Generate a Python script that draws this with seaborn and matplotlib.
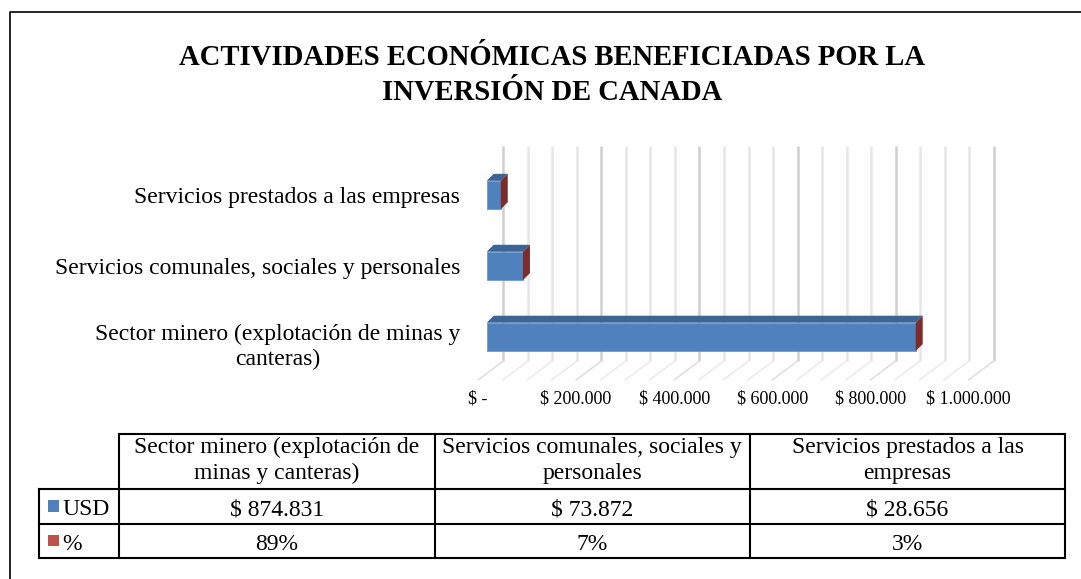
import numpy as np
import pandas as pd
import matplotlib
matplotlib.use('Agg')
import matplotlib.pyplot as plt
import seaborn as sns
from matplotlib.patches import Polygon, Rectangle
from matplotlib.transforms import Affine2D, blended_transform_factory

# datos
categorias = ['Sector minero (explotación de minas y canteras)',
              'Servicios comunales, sociales y personales',
              'Servicios prestados a las empresas']
usd = [874831, 73872, 28656]
pct = [89, 7, 3]
etiquetas_eje = ['Sector minero (explotación de minas y\ncanteras)',
                 'Servicios comunales, sociales y personales',
                 'Servicios prestados a las empresas']
encabezados = ['Sector minero (explotación de\nminas y canteras)',
               'Servicios comunales, sociales y\npersonales',
               'Servicios prestados a las\nempresas']
x_ticks = [0, 200000, 400000, 600000, 800000, 1000000]
x_tick_labels = ['$ -', '$ 200.000', '$ 400.000', '$ 600.000', '$ 800.000', '$ 1.000.000']
x_grid_step = 50000
series = ['USD', '%']
titulo = 'ACTIVIDADES ECONÓMICAS BENEFICIADAS POR LA\nINVERSIÓN DE CANADA'

AZUL = '#4F81BD'
AZUL_TOP = '#3C6595'
ROJO = '#C0504D'
ROJO_SIDE = '#7C2D2B'


def fmt_usd(v):
    return '$ ' + f'{v:,}'.replace(',', '.')


W, H = 1081, 579
sns.set_style('white')
plt.rcParams['font.family'] = ['Liberation Serif', 'DejaVu Serif']
plt.rcParams['text.color'] = 'black'
plt.rcParams['ytick.color'] = 'black'
plt.rcParams['ytick.labelcolor'] = 'black'

fig = plt.figure(figsize=(W / 100, H / 100), dpi=100)
pix = Affine2D().scale(1, -1).translate(0, H)  # image pixels (y from top) -> display


def box(l, t, r, b):
    return [l / W, 1 - b / H, (r - l) / W, (b - t) / H]


# overlay for frame + data table
ax_t = fig.add_axes([0, 0, 1, 1])
ax_t.set_xlim(0, W)
ax_t.set_ylim(H, 0)
ax_t.axis('off')
ax_t.plot([10, 10, W + 5], [H + 5, 12, 12], color='black', lw=1.2, clip_on=False)

# bar plane geometry (pixels)
X0, X1 = 486.7, 977.1          # value 0 and 1.000.000 on the bar front
Y_CAT0, Y_STEP = 195, 70.95    # centre of the top bar, distance between bars
AX_T, AX_B = 130, 400
BACK_DX, FRONT_DX = 16.6, -8.7
WALL_TOP, FLOOR_BACK, FLOOR_FRONT = 146, 361, 380
DEPTH = 7

ax = fig.add_axes(box(X0, AX_T, X1, AX_B))
ax.patch.set_alpha(0)

df = pd.DataFrame({'categoria': categorias, 'usd': usd, 'pct': pct})
orden = categorias[::-1]
sns.barplot(data=df, x='usd', y='categoria', order=orden, orient='h', color=AZUL,
            saturation=1, width=0.4, ax=ax, zorder=3, edgecolor='#6E9AD0', linewidth=0.6)

xscale = (X1 - X0) / x_ticks[-1]
tw = blended_transform_factory(ax.transData, pix)

# back wall + floor grid
major = x_ticks[1] - x_ticks[0]
for v in np.arange(0, x_ticks[-1] + 1, x_grid_step):
    c = '#CFCFCF' if v % major == 0 else '#E6E6E6'
    xb = v + BACK_DX / xscale
    ax.plot([xb, xb], [WALL_TOP, FLOOR_BACK], transform=tw, color=c, lw=1.8,
            clip_on=False, zorder=0, solid_capstyle='butt')
    ax.plot([xb, v + FRONT_DX / xscale], [FLOOR_BACK, FLOOR_FRONT], transform=tw,
            color='#DDDDDD' if v % major == 0 else '#EAEAEA', lw=1.1, clip_on=False, zorder=0)

for v, lab in zip(x_ticks, x_tick_labels):
    ax.text(v + FRONT_DX / xscale, 399, lab, transform=tw, ha='center', va='center',
            fontsize=13)

# 3d faces: top in dark blue, end cap belongs to the % series
bars = list(ax.patches)
ddx = DEPTH / xscale
ddy = DEPTH / Y_STEP
for p in bars:
    x0 = p.get_x()
    x1 = x0 + p.get_width()
    ytop = min(p.get_y(), p.get_y() + p.get_height())
    ybot = max(p.get_y(), p.get_y() + p.get_height())
    ax.add_patch(Polygon([(x0, ytop), (x1, ytop), (x1 + ddx, ytop - ddy), (x0 + ddx, ytop - ddy)],
                         closed=True, fc=AZUL_TOP, ec='none', zorder=3))
    ax.add_patch(Polygon([(x1, ytop), (x1, ybot), (x1 + ddx, ybot - ddy), (x1 + ddx, ytop - ddy)],
                         closed=True, fc=ROJO_SIDE, ec='none', zorder=3))

ax.set_xlim(0, x_ticks[-1])
ax.set_ylim((AX_B - Y_CAT0) / Y_STEP, (AX_T - Y_CAT0) / Y_STEP)
ax.set_yticks(range(len(orden)), labels=etiquetas_eje[::-1])
ax.tick_params(axis='y', length=0, pad=(X0 - 460) * 0.72, labelsize=17)
ax.tick_params(axis='x', bottom=False, labelbottom=False)
for lab in ax.get_yticklabels():
    lab.set_multialignment('center')
    if '\n' in lab.get_text():
        lab.set_transform(lab.get_transform() + Affine2D().translate(0, -6))
ax.set_xlabel('')
ax.set_ylabel('')
for s in ax.spines.values():
    s.set_visible(False)

# title
fig.text(552 / W, 1 - 75 / H, titulo, ha='center', va='center', fontsize=20.6,
         fontweight='bold', linespacing=1.4)

# data table
xs = [39, 119, 434.5, 750, 1065]
ys = [434, 489, 523.5, 558]
lk = dict(color='black', lw=1.5, solid_capstyle='projecting')
ax_t.plot([xs[1], xs[-1]], [ys[0], ys[0]], **lk)
for y in ys[1:]:
    ax_t.plot([xs[0], xs[-1]], [y, y], **lk)
ax_t.plot([xs[0], xs[0]], [ys[1], ys[3]], **lk)
for x in xs[1:]:
    ax_t.plot([x, x], [ys[0], ys[3]], **lk)

for i, enc in enumerate(encabezados):
    cx = (xs[i + 1] + xs[i + 2]) / 2
    ax_t.text(cx, (ys[0] + ys[1]) / 2 - 1, enc, ha='center', va='center', fontsize=17,
              linespacing=1.25)
    ax_t.text(cx, (ys[1] + ys[2]) / 2 + 1, fmt_usd(usd[i]), ha='center',
              va='center_baseline', fontsize=17)
    ax_t.text(cx, (ys[2] + ys[3]) / 2 + 1, f'{pct[i]}%', ha='center',
              va='center_baseline', fontsize=17)

for j, (nombre, col) in enumerate(zip(series, [AZUL, ROJO])):
    cy = (ys[j + 1] + ys[j + 2]) / 2
    ax_t.add_patch(Rectangle((47.7, cy - 6), 11.5, 11.5, fc=col, ec='none'))
    ax_t.text(62, cy + 1, nombre, ha='left', va='center_baseline', fontsize=17)

fig.savefig('out.png', dpi=100)
